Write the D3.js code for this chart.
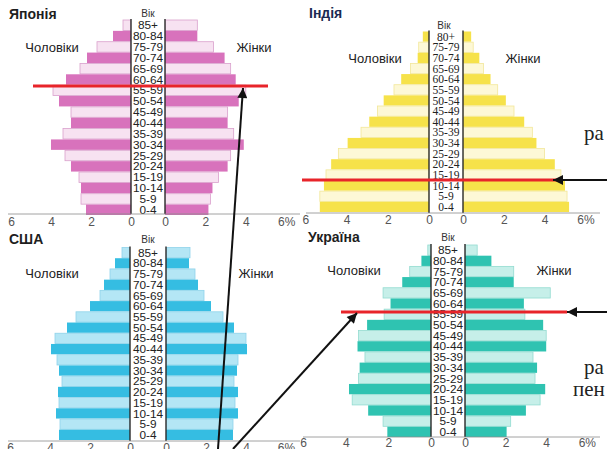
<!DOCTYPE html>
<html><head><meta charset="utf-8">
<script src="https://cdn.jsdelivr.net/npm/d3@7"></script>
<style>
html,body{margin:0;padding:0;background:#fff;}
svg{display:block;}
</style></head>
<body><svg id="c" width="607" height="449"></svg>
<script>
// ---- data ----
const ages18 = ["85+","80-84","75-79","70-74","65-69","60-64","55-59","50-54","45-49","40-44","35-39","30-34","25-29","20-24","15-19","10-14","5-9","0-4"];
const ages17 = ["80+","75-79","70-74","65-69","60-64","55-59","50-54","45-49","40-44","35-39","30-34","25-29","20-24","15-19","10-14","5-9","0-4"];
const tickValues = [0, 2, 4, 6];

const japanMale   = [0.4,0.9,1.7,2.2,2.55,3.25,3.9,3.6,3.0,3.0,3.4,4.0,3.3,3.0,2.6,2.5,2.5,2.25];
const japanFemale = [1.6,1.6,2.4,2.95,3.25,3.5,4.0,3.65,3.1,3.1,3.4,3.9,3.25,3.1,2.65,2.35,2.25,2.15];
const indiaMale   = [0.3,0.5,0.55,0.9,1.35,1.7,2.2,2.5,2.9,3.3,3.95,4.4,4.75,5.0,5.1,5.3,5.3];
const indiaFemale = [0.4,0.5,0.8,1.0,1.35,1.7,2.1,2.5,3.0,3.4,3.6,4.0,4.5,4.8,5.0,5.1,5.2];
const usaMale     = [0.4,0.75,1.0,1.3,1.5,2.0,2.7,3.15,3.75,3.95,3.65,3.55,3.4,3.6,3.55,3.7,3.5,3.55];
const usaFemale   = [1.2,1.15,1.45,1.6,1.9,2.25,2.85,3.4,4.0,4.05,3.6,3.55,3.4,3.6,3.45,3.6,3.35,3.35];
const ukrMale     = [0.15,0.45,1.0,1.35,2.25,1.9,2.2,3.0,3.4,3.45,3.1,3.35,3.4,3.85,3.7,2.95,2.25,2.05];
const ukrFemale   = [0.6,1.3,2.4,2.4,4.2,2.9,2.95,3.85,4.0,4.0,3.35,3.55,3.45,3.95,3.7,3.0,2.25,2.05];

const titles = ["Японія","Індія","США","Україна"];

// ---- layout ----
const panels = [
  {title:titles[0], ages:ages18, male:japanMale, female:japanFemale,
   dark:"#d872bc", light:"#f7e2f1", edge:"#d9a0cc", tcol:"#1e1e1e",
   tx:9, ty:19, lz:131, rz:165, sL:20, sR:20.2, y0:20, y1:215, axisY:214, labY:226,
   ax1:8, ax2:300, men:[52,52], women:[254,52], vik:[148,17], ageFont:"Liberation Sans", ageSize:11.8},
  {title:titles[1], ages:ages17, male:indiaMale, female:indiaFemale,
   dark:"#f6e24a", light:"#fdf8d6", edge:"#f2e79a", tcol:"#1b2a52",
   tx:309, ty:18, lz:429, rz:463, sL:20.6, sR:20.4, y0:31.5, y1:212, axisY:213, labY:224,
   ax1:306, ax2:600, men:[375,63], women:[523,63], vik:[444,29], ageFont:"Liberation Serif", ageSize:11.5, narrow:true},
  {title:titles[2], ages:ages18, male:usaMale, female:usaFemale,
   dark:"#35bde2", light:"#b4e6f5", edge:"#8fd3ea", tcol:"#1e1e1e",
   tx:9, ty:244, lz:130, rz:166, sL:20, sR:20, y0:247.5, y1:440, axisY:441, labY:452,
   ax1:8, ax2:300, men:[52,278], women:[256,278], vik:[148,243], ageFont:"Liberation Sans", ageSize:11.8},
  {title:titles[3], ages:ages18, male:ukrMale, female:ukrFemale,
   dark:"#2fc3b1", light:"#c6efe9", edge:"#93dbd0", tcol:"#1e1e1e",
   tx:308, ty:242, lz:431, rz:465, sL:21.3, sR:20.3, y0:245, y1:437, axisY:437, labY:447,
   ax1:303, ax2:600, men:[354,275], women:[554,275], vik:[448,241], ageFont:"Liberation Sans", ageSize:11.8}
];

const svg = d3.select("#c");

panels.forEach(p => {
  const g = svg.append("g");
  const xL = d3.scaleLinear().domain([0,6]).range([p.lz, p.lz - 6*p.sL]);
  const xR = d3.scaleLinear().domain([0,6]).range([p.rz, p.rz + 6*p.sR]);
  const y = d3.scaleBand().domain(p.ages).range([p.y0, p.y1]).paddingInner(0.04);

  const rows = p.ages.map((a,i)=>({age:a, m:p.male[i], f:p.female[i], dark: (p.ages.length - 1 - i) % 2 === 0}));

  // male bars
  g.selectAll("rect.m").data(rows).join("rect")
    .attr("x", d => xL(d.m)).attr("y", d => y(d.age))
    .attr("width", d => xL(0) - xL(d.m)).attr("height", y.bandwidth())
    .attr("fill", d => d.dark ? p.dark : p.light)
    .attr("stroke", d => d.dark ? "none" : p.edge).attr("stroke-width", 0.8);
  // female bars
  g.selectAll("rect.f").data(rows).join("rect")
    .attr("x", xR(0)).attr("y", d => y(d.age))
    .attr("width", d => xR(d.f) - xR(0)).attr("height", y.bandwidth())
    .attr("fill", d => d.dark ? p.dark : p.light)
    .attr("stroke", d => d.dark ? "none" : p.edge).attr("stroke-width", 0.8);

  // center column
  g.append("rect").attr("x", p.lz).attr("y", p.y0 - 1).attr("width", p.rz - p.lz).attr("height", p.y1 - p.y0 + 1).attr("fill", "#fff");
  [p.lz, p.rz].forEach(x => g.append("line").attr("x1", x).attr("x2", x)
    .attr("y1", p.y0 - 1).attr("y2", p.axisY).attr("stroke", "#2a2a2a").attr("stroke-width", 1.4));

  // age labels
  g.selectAll("text.age").data(rows).join("text")
    .attr("x", (p.lz + p.rz)/2).attr("y", d => y(d.age) + y.bandwidth()/2 + 4.1)
    .attr("text-anchor", "middle")
    .attr("font-family", p.ageFont).attr("font-size", p.ageSize)
    .attr("fill", "#222")
    .attr("textLength", d => (p.narrow && d.age.length === 5) ? 27 : null)
    .attr("lengthAdjust", "spacingAndGlyphs")
    .text(d => d.age);

  // axis baseline
  g.append("line").attr("x1", p.ax1).attr("x2", p.ax2).attr("y1", p.axisY).attr("y2", p.axisY)
    .attr("stroke", "#8a8a8a").attr("stroke-width", 0.8);

  // axes (tick labels only)
  const axL = d3.axisBottom(xL).tickValues(tickValues).tickSize(0).tickFormat(d3.format("d"));
  const axR = d3.axisBottom(xR).tickValues(tickValues).tickSize(0).tickFormat(d => d === 6 ? "6%" : d);
  [axL, axR].forEach(ax => {
    const a = g.append("g").attr("transform", `translate(0,${p.labY})`).call(ax);
    a.select(".domain").remove();
    a.selectAll("text").attr("font-family", "Liberation Sans").attr("font-size", 12)
      .attr("fill", "#555").attr("y", 0).attr("dy", 0);
  });

  // titles & labels
  g.append("text").attr("x", p.tx).attr("y", p.ty).attr("font-family", "Liberation Sans")
    .attr("font-weight", "bold").attr("font-size", 14).attr("fill", p.tcol).text(p.title);
  g.append("text").attr("x", p.vik[0]).attr("y", p.vik[1]).attr("text-anchor", "middle")
    .attr("font-family", "Liberation Sans").attr("font-size", 10).attr("fill", "#333").text("Вік");
  g.append("text").attr("x", p.men[0]).attr("y", p.men[1]).attr("text-anchor", "middle")
    .attr("font-family", "Liberation Sans").attr("font-size", 13).attr("fill", "#222").text("Чоловіки");
  g.append("text").attr("x", p.women[0]).attr("y", p.women[1]).attr("text-anchor", "middle")
    .attr("font-family", "Liberation Sans").attr("font-size", 13).attr("fill", "#222").text("Жінки");
});

// ---- annotations (red lines + arrows) ----
const defs = svg.append("defs");
defs.append("marker").attr("id","ah").attr("viewBox","0 0 10 10").attr("refX",10).attr("refY",5)
  .attr("markerWidth",6).attr("markerHeight",5).attr("orient","auto-start-reverse")
  .append("path").attr("d","M0,0 L10,5 L0,10 Z").attr("fill","#111");

const redLines = [[33,86,268,86],[302,180,560,180],[341,312,567,312]];
redLines.forEach(l => svg.append("line").attr("x1",l[0]).attr("y1",l[1]).attr("x2",l[2]).attr("y2",l[3])
  .attr("stroke","#e8242a").attr("stroke-width",3));

const arrows = [[218,449,243,88],[233,449,357,313],[607,180,553,180],[607,312,567,312]];
arrows.forEach(a => svg.append("line").attr("x1",a[0]).attr("y1",a[1]).attr("x2",a[2]).attr("y2",a[3])
  .attr("stroke","#111").attr("stroke-width",2).attr("marker-end","url(#ah)"));

const sideTexts = [["ра",584,140],["ра",584,374],["пен",573,396]];
sideTexts.forEach(t => svg.append("text").attr("x",t[1]).attr("y",t[2]).attr("font-family","Liberation Serif")
  .attr("font-size",21).attr("fill","#222").text(t[0]));
</script></body></html>
